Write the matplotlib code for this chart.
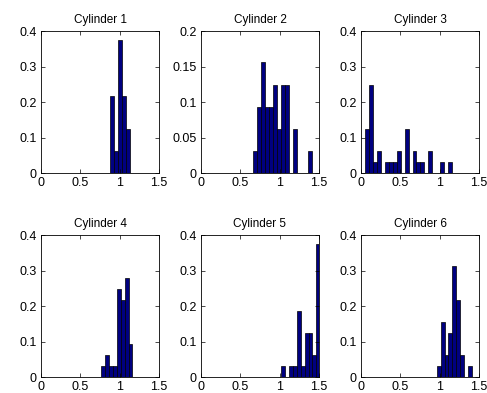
import matplotlib
matplotlib.use("Agg")
import matplotlib.pyplot as plt
import numpy as np

plt.rcParams['font.family'] = ['Liberation Sans', 'DejaVu Sans']

# relative frequency histograms, 32 samples each, bin width ~0.05
n_samples = 32
bin_width = 0.05
titles = ['Cylinder 1', 'Cylinder 2', 'Cylinder 3',
          'Cylinder 4', 'Cylinder 5', 'Cylinder 6']
first_edge = [0.877, 0.665, 0.055, 0.763, 1.017, 0.962]
counts = [
    [7, 2, 12, 7, 4],
    [1, 3, 5, 3, 3, 4, 2, 4, 4, 0, 2, 0, 0, 0, 1],
    [4, 8, 1, 2, 0, 1, 1, 1, 2, 0, 4, 0, 2, 1, 1, 0, 2, 0, 0, 1, 0, 1],
    [1, 2, 1, 1, 8, 7, 9, 3],
    [1, 0, 1, 1, 6, 1, 4, 4, 2, 12],
    [1, 5, 2, 4, 10, 7, 2, 0, 1],
]
y_max = [0.4, 0.2, 0.4, 0.4, 0.4, 0.4]
xticks = [0, 0.5, 1, 1.5]
xticklabels = ['0', '0.5', '1', '1.5']
yticks_04 = [0, 0.1, 0.2, 0.3, 0.4]
yticklabels_04 = ['0', '0.1', '0.2', '0.3', '0.4']
yticks_02 = [0, 0.05, 0.1, 0.15, 0.2]
yticklabels_02 = ['0', '0.05', '0.1', '0.15', '0.2']

fig = plt.figure(figsize=(4.87, 3.93), dpi=100)
lefts = [0.0842, 0.4127, 0.7413]
bottoms = [0.559, 0.040]
w, h = 0.2423, 0.361

for i in range(6):
    r, c = divmod(i, 3)
    ax = fig.add_axes([lefts[c], bottoms[r], w, h])
    cnt = np.array(counts[i]) / n_samples
    x = first_edge[i] + bin_width * np.arange(len(cnt))
    ax.bar(x, cnt, width=bin_width, align='edge', color='#000080',
           edgecolor='black', linewidth=0.5)
    ax.set_xlim(0, 1.5)
    ax.set_ylim(0, y_max[i])
    ax.set_xticks(xticks)
    ax.set_xticklabels(xticklabels)
    if y_max[i] == 0.2:
        ax.set_yticks(yticks_02)
        ax.set_yticklabels(yticklabels_02)
    else:
        ax.set_yticks(yticks_04)
        ax.set_yticklabels(yticklabels_04)
    ax.tick_params(direction='in', length=3, width=0.5, labelsize=9,
                   top=True, right=True, pad=3)
    for s in ax.spines.values():
        s.set_linewidth(0.6)
    ax.set_title(titles[i], fontsize=8.5, pad=6)

fig.savefig('out.png', dpi=100)
